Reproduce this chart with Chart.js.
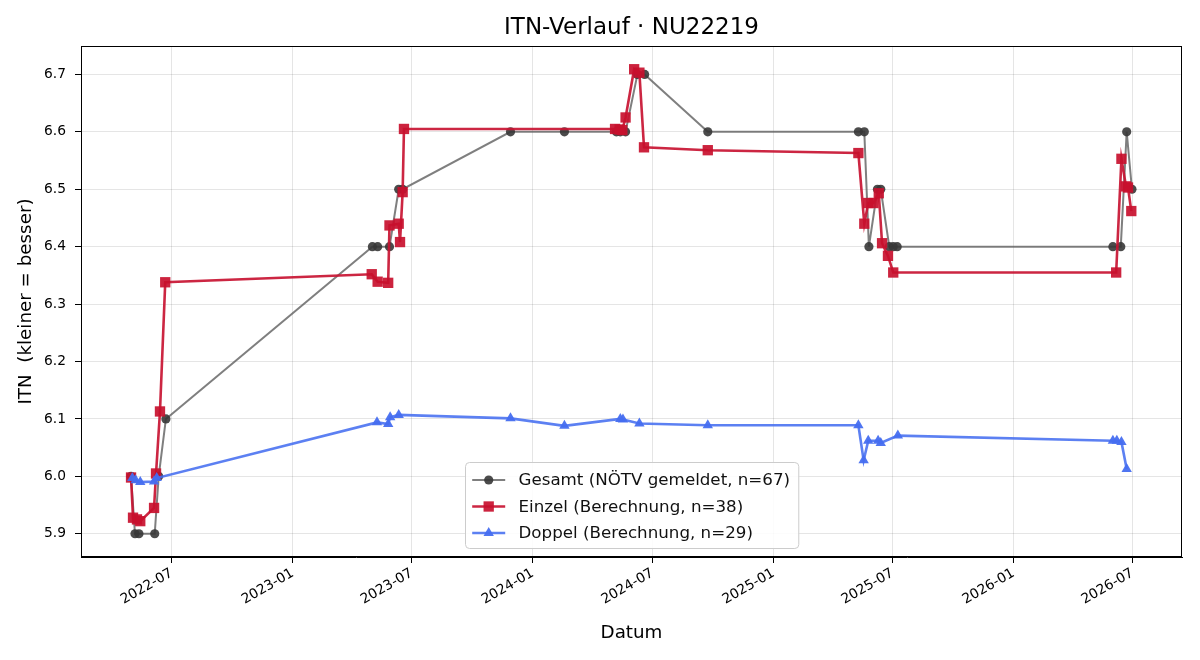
<!DOCTYPE html>
<html>
<head>
<meta charset="utf-8">
<title>ITN-Verlauf</title>
<script src="https://cdn.jsdelivr.net/npm/chart.js@4.4.1/dist/chart.umd.min.js"></script>
<style>
  html, body { margin: 0; padding: 0; background: #fff; }
  #wrap { width: 1200px; height: 660px; }
</style>
</head>
<body>
<div id="wrap"><canvas id="itnChart" width="1200" height="660"></canvas></div>
<script>
// ---- Daten ----
const gesamtDates = [
  "2022-04-30", "2022-05-06", "2022-05-12", "2022-06-05", "2022-06-11", "2022-06-22",
  "2023-05-02", "2023-05-10", "2023-05-28", "2023-06-11", "2023-06-17",
  "2023-11-28", "2024-02-18", "2024-05-07", "2024-05-13", "2024-05-21", "2024-06-08", "2024-06-19",
  "2024-09-23", "2025-05-10", "2025-05-19", "2025-05-26", "2025-06-08", "2025-06-13",
  "2025-06-26", "2025-07-02", "2025-07-08",
  "2026-06-01", "2026-06-13", "2026-06-22", "2026-06-30"
];
const gesamtValues = [
  6.0, 5.9, 5.9, 5.9, 6.0, 6.1,
  6.4, 6.4, 6.4, 6.5, 6.5,
  6.6, 6.6, 6.6, 6.6, 6.6, 6.7, 6.7,
  6.6, 6.6, 6.6, 6.4, 6.5, 6.5,
  6.4, 6.4, 6.4,
  6.4, 6.4, 6.6, 6.5
];

const einzelDates = [
  "2022-04-30", "2022-05-03", "2022-05-09", "2022-05-14", "2022-06-04", "2022-06-07", "2022-06-13", "2022-06-21",
  "2023-05-01", "2023-05-10", "2023-05-26", "2023-05-28", "2023-06-11", "2023-06-13", "2023-06-17", "2023-06-19",
  "2024-05-05", "2024-05-12", "2024-05-16", "2024-05-21", "2024-06-03", "2024-06-11", "2024-06-18",
  "2024-09-23", "2025-05-10", "2025-05-19", "2025-05-25", "2025-06-02", "2025-06-10", "2025-06-15",
  "2025-06-24", "2025-07-02",
  "2026-06-06", "2026-06-14", "2026-06-21", "2026-06-24", "2026-06-29"
];
const einzelValues = [
  5.998, 5.928, 5.925, 5.922, 5.945, 6.005, 6.113, 6.338,
  6.352, 6.339, 6.337, 6.437, 6.440, 6.408, 6.495, 6.605,
  6.605, 6.604, 6.603, 6.625, 6.709, 6.703, 6.573,
  6.568, 6.563, 6.440, 6.476, 6.476, 6.493, 6.406,
  6.384, 6.355,
  6.355, 6.553, 6.505, 6.503, 6.462
];

const doppelDates = [
  "2022-05-02", "2022-05-07", "2022-05-14", "2022-06-04", "2022-06-08",
  "2023-05-09", "2023-05-26", "2023-05-29", "2023-06-11",
  "2023-11-28", "2024-02-18", "2024-05-13", "2024-05-17", "2024-06-11",
  "2024-09-23", "2025-05-10", "2025-05-18", "2025-05-25", "2025-06-09", "2025-06-13", "2025-07-09",
  "2026-06-01", "2026-06-07", "2026-06-14", "2026-06-22"
];
const doppelValues = [
  5.997, 5.993, 5.990, 5.991, 5.997,
  6.094, 6.091, 6.103, 6.107,
  6.101, 6.088, 6.100, 6.099, 6.092,
  6.089, 6.089, 6.028, 6.062, 6.062, 6.058, 6.071,
  6.062, 6.062, 6.060, 6.013
];

const xTickLabels = ["2022-07", "2023-01", "2023-07", "2024-01", "2024-07", "2025-01", "2025-07", "2026-01", "2026-07"];
const yTicks = [5.9, 6.0, 6.1, 6.2, 6.3, 6.4, 6.5, 6.6, 6.7];

const chartTitle = "ITN-Verlauf · NU22219";
const seriesLabels = [
  "Gesamt (NÖTV gemeldet, n=67)",
  "Einzel (Berechnung, n=38)",
  "Doppel (Berechnung, n=29)"
];

/** ================================
 *  Hilfsfunktionen
 =================================*/
const FONT = "'DejaVu Sans', sans-serif";
const toPoints = (dates, vals) => dates.map((d, i) => ({ x: Date.parse(d), y: vals[i] }));

const allX = [...gesamtDates, ...einzelDates, ...doppelDates].map(d => Date.parse(d));
const allY = [...gesamtValues, ...einzelValues, ...doppelValues];
const xLo = Math.min(...allX), xHi = Math.max(...allX);
const yLo = Math.min(...allY), yHi = Math.max(...allY);
const xPad = (xHi - xLo) * 0.05, yPad = (yHi - yLo) * 0.05;

function monthLabel(v) {
  const d = new Date(v);
  return d.getUTCFullYear() + "-" + String(d.getUTCMonth() + 1).padStart(2, "0");
}

// Rahmen oben/rechts + Titel über dem Plotbereich (wie matplotlib)
const frame = {
  id: "frame",
  afterDraw(chart) {
    const { ctx, chartArea: a } = chart;
    ctx.save();
    ctx.strokeStyle = "#000";
    ctx.lineWidth = 1;
    ctx.strokeRect(a.left + 0.5, a.top + 0.5, a.right - a.left - 1, a.bottom - a.top - 1);
    ctx.fillStyle = "#000";
    ctx.font = "23px " + FONT;
    ctx.textAlign = "center";
    ctx.textBaseline = "middle";
    ctx.fillText(chartTitle, (a.left + a.right) / 2, 28);
    ctx.restore();
  }
};

function drawMarker(ctx, style, x, y, r) {
  ctx.beginPath();
  if (style === "circle") {
    ctx.arc(x, y, r, 0, Math.PI * 2);
  } else if (style === "rect") {
    const s = r / Math.SQRT2;
    ctx.rect(x - s, y - s, 2 * s, 2 * s);
  } else {
    let rad = 0;
    ctx.moveTo(x + Math.sin(rad) * r, y - Math.cos(rad) * r);
    rad += Math.PI * 2 / 3;
    ctx.lineTo(x + Math.sin(rad) * r, y - Math.cos(rad) * r);
    rad += Math.PI * 2 / 3;
    ctx.lineTo(x + Math.sin(rad) * r, y - Math.cos(rad) * r);
    ctx.closePath();
  }
  ctx.fill();
}

// Legende unten mittig im Plotbereich
const innerLegend = {
  id: "innerLegend",
  afterDraw(chart) {
    const { ctx, chartArea: a } = chart;
    const ds = chart.data.datasets.slice().sort((p, q) => p.legendIndex - q.legendIndex);
    const fs = 16.7;
    ctx.save();
    ctx.font = fs + "px " + FONT;
    const textW = Math.max(...ds.map(d => ctx.measureText(d.label).width));
    const pad = 6.7, handle = 33, gap = 13.3, rowH = 26.5;
    const w = pad * 2 + handle + gap + textW + 2;
    const h = 86;
    const x0 = Math.round((a.left + a.right) / 2 - w / 2) + 0.5;
    const y0 = Math.round(a.bottom - 9 - h) + 0.5;

    ctx.fillStyle = "rgba(255,255,255,0.85)";
    ctx.strokeStyle = "#cccccc";
    ctx.lineWidth = 1;
    ctx.beginPath();
    ctx.roundRect(x0, y0, w, h, 4);
    ctx.fill();
    ctx.stroke();

    ds.forEach((d, i) => {
      const cy = y0 + 17.5 + i * rowH;
      const hx = x0 + pad;
      ctx.strokeStyle = d.borderColor;
      ctx.lineWidth = d.borderWidth;
      ctx.beginPath();
      ctx.moveTo(hx, cy);
      ctx.lineTo(hx + handle, cy);
      ctx.stroke();
      ctx.fillStyle = d.pointBackgroundColor;
      drawMarker(ctx, d.pointStyle, hx + handle / 2, cy, d.pointRadius);
      ctx.fillStyle = "#111";
      ctx.textBaseline = "middle";
      ctx.textAlign = "left";
      ctx.fillText(d.label, hx + handle + gap, cy + 1);
    });
    ctx.restore();
  }
};

/** ================================
 *  Chart
 =================================*/
new Chart(document.getElementById("itnChart"), {
  type: "line",
  data: {
    datasets: [
      {
        label: seriesLabels[0],
        legendIndex: 0,
        data: toPoints(gesamtDates, gesamtValues),
        borderColor: "rgba(95,95,95,0.8)",
        borderWidth: 2,
        pointStyle: "circle",
        pointRadius: 4.6,
        pointBackgroundColor: "rgba(55,55,55,0.9)",
        pointBorderColor: "rgba(55,55,55,0.9)",
        pointBorderWidth: 0,
        order: 3
      },
      {
        label: seriesLabels[1],
        legendIndex: 1,
        data: toPoints(einzelDates, einzelValues),
        borderColor: "rgba(200,20,50,0.92)",
        borderWidth: 2.6,
        pointStyle: "rect",
        pointRadius: 7.3,
        pointBackgroundColor: "rgba(200,16,46,0.92)",
        pointBorderColor: "rgba(200,16,46,0.92)",
        pointBorderWidth: 0,
        order: 2
      },
      {
        label: seriesLabels[2],
        legendIndex: 2,
        data: toPoints(doppelDates, doppelValues),
        borderColor: "rgba(70,110,240,0.88)",
        borderWidth: 2.6,
        pointStyle: "triangle",
        pointRadius: 6,
        pointBackgroundColor: "rgba(70,110,240,0.95)",
        pointBorderColor: "rgba(70,110,240,0.95)",
        pointBorderWidth: 0,
        order: 1
      }
    ]
  },
  options: {
    responsive: false,
    animation: false,
    devicePixelRatio: 1,
    layout: { padding: { left: 0, right: 18, top: 46, bottom: 0 } },
    elements: { line: { tension: 0 } },
    plugins: {
      legend: { display: false },
      tooltip: { enabled: false },
      title: { display: false }
    },
    scales: {
      x: {
        type: "linear",
        min: xLo - xPad,
        max: xHi + xPad,
        afterBuildTicks: s => { s.ticks = xTickLabels.map(t => ({ value: Date.parse(t + "-01") })); },
        afterFit: s => { s.height = 103; },
        ticks: {
          autoSkip: false,
          minRotation: 30,
          maxRotation: 30,
          color: "#000",
          padding: 2,
          font: { family: FONT, size: 13.8 },
          callback: v => monthLabel(v)
        },
        grid: { color: "rgba(0,0,0,0.1)", tickColor: "#000", tickLength: 6 },
        border: { color: "#000", width: 1 },
        title: {
          display: true,
          text: "Datum",
          color: "#000",
          font: { family: FONT, size: 18.3 },
          padding: { top: 0, bottom: 16 }
        }
      },
      y: {
        type: "linear",
        min: yLo - yPad,
        max: yHi + yPad,
        afterBuildTicks: s => { s.ticks = yTicks.map(v => ({ value: v })); },
        afterFit: s => { s.width = 81; },
        ticks: {
          color: "#000",
          padding: 9,
          font: { family: FONT, size: 13.8 },
          callback: v => v.toFixed(1)
        },
        grid: { color: "rgba(0,0,0,0.1)", tickColor: "#000", tickLength: 6 },
        border: { color: "#000", width: 1 },
        title: {
          display: true,
          text: "ITN  (kleiner = besser)",
          color: "#000",
          font: { family: FONT, size: 18.3 },
          padding: { top: 15, bottom: 0 }
        }
      }
    }
  },
  plugins: [frame, innerLegend]
});
</script>
</body>
</html>
